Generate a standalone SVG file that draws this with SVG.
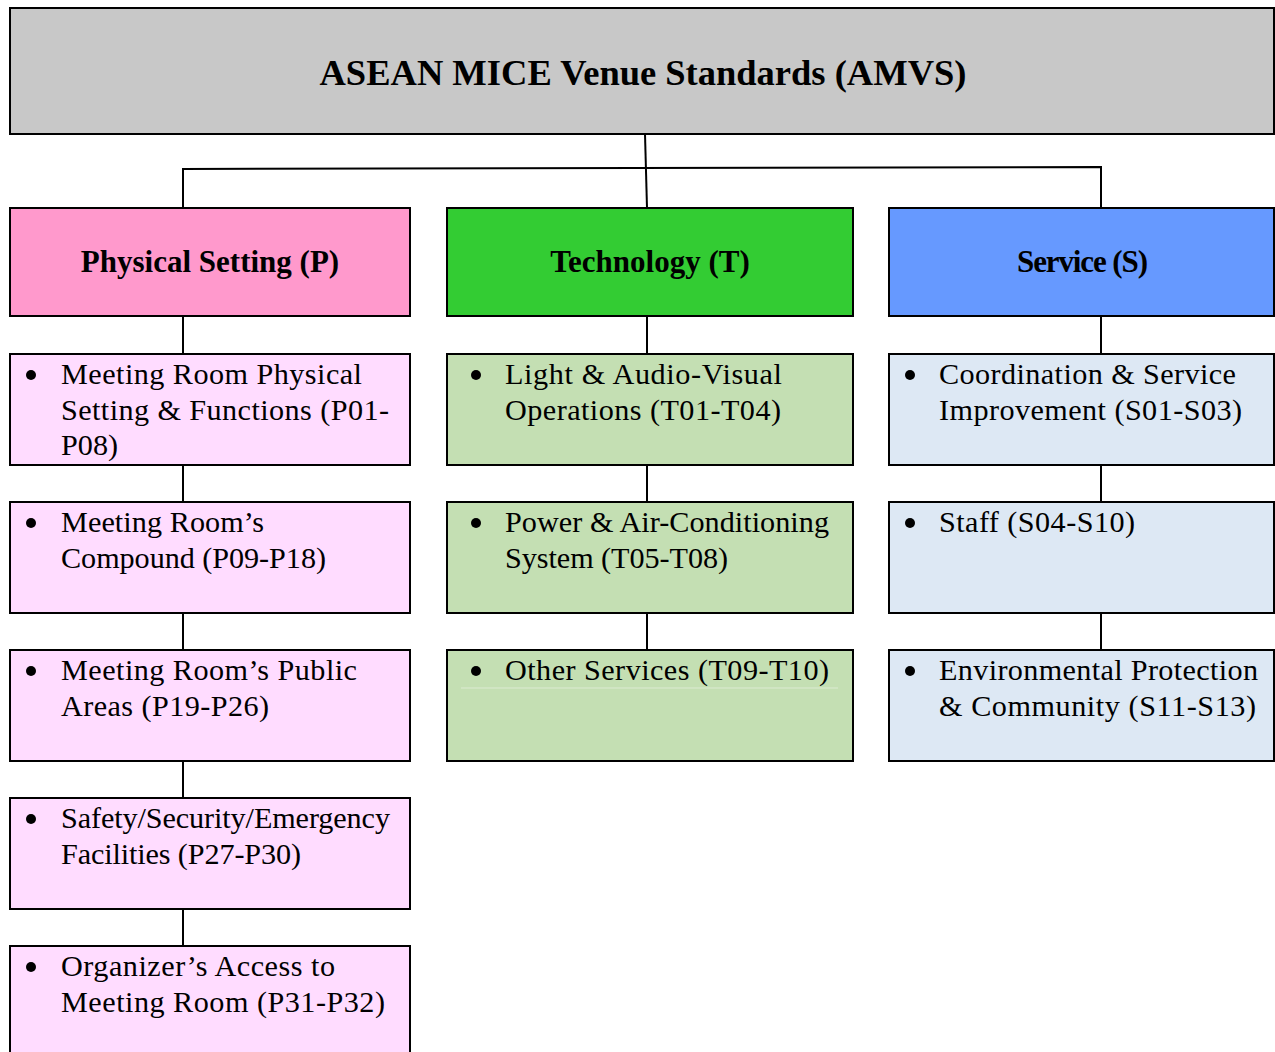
<svg xmlns="http://www.w3.org/2000/svg" width="1275" height="1052" viewBox="0 0 1275 1052">
<style>
.box{stroke:#000;stroke-width:2}
.title{font-family:"Liberation Serif","Times New Roman",serif;font-weight:bold;font-size:36.5px;fill:#000}
.cat{font-family:"Liberation Serif","Times New Roman",serif;font-weight:bold;font-size:31px;fill:#000}
.item{font-family:"Liberation Serif","Times New Roman",serif;font-size:30.2px;fill:#000}
.pc{fill:#ff99cc}.tc{fill:#33cc33}.sc{fill:#6699ff}
.pl{fill:#ffdcff}.tl{fill:#c4dfb3}.sl{fill:#dde8f4}
.conn line,.conn polyline{stroke:#000;stroke-width:2;fill:none}
</style>
<rect width="1275" height="1052" fill="#fff"/>
<g id="connectors" class="conn">
<line x1="645" y1="134" x2="647" y2="208"/>
<polyline points="183,208 183,169 1101,167 1101,208"/>
<line x1="183" y1="316" x2="183" y2="354"/>
<line x1="183" y1="465" x2="183" y2="502"/>
<line x1="183" y1="613" x2="183" y2="650"/>
<line x1="183" y1="761" x2="183" y2="798"/>
<line x1="183" y1="909" x2="183" y2="946"/>
<line x1="647" y1="316" x2="647" y2="354"/>
<line x1="647" y1="465" x2="647" y2="502"/>
<line x1="647" y1="613" x2="647" y2="650"/>
<line x1="1101" y1="316" x2="1101" y2="354"/>
<line x1="1101" y1="465" x2="1101" y2="502"/>
<line x1="1101" y1="613" x2="1101" y2="650"/>
</g>
<g id="root">
<rect class="box" x="10" y="8" width="1264" height="126" fill="#c8c8c8"/>
<text class="title" x="643" y="85" text-anchor="middle">ASEAN MICE Venue Standards (AMVS)</text>
</g>
<g id="cat-p">
<rect class="box pc" x="10" y="208" width="400" height="108"/>
<text class="cat" x="210" y="272" text-anchor="middle">Physical Setting (P)</text>
</g>
<g id="cat-t">
<rect class="box tc" x="447" y="208" width="406" height="108"/>
<text class="cat" x="650" y="272" text-anchor="middle">Technology (T)</text>
</g>
<g id="cat-s">
<rect class="box sc" x="889" y="208" width="385" height="108"/>
<text class="cat" x="1017" y="272" textLength="131">Service (S)</text>
</g>
<g id="p1">
<rect class="box pl" x="10" y="354" width="400" height="111"/>
<circle cx="31" cy="375" r="5"/>
<text class="item" x="61" y="384" textLength="301">Meeting Room Physical</text>
<text class="item" x="61" y="420" textLength="328">Setting &amp; Functions (P01-</text>
<text class="item" x="61" y="455">P08)</text>
</g>
<g id="p2">
<rect class="box pl" x="10" y="502" width="400" height="111"/>
<circle cx="31" cy="523" r="5"/>
<text class="item" x="61" y="532" textLength="203">Meeting Room’s</text>
<text class="item" x="61" y="568" textLength="265">Compound (P09-P18)</text>
</g>
<g id="p3">
<rect class="box pl" x="10" y="650" width="400" height="111"/>
<circle cx="31" cy="671" r="5"/>
<text class="item" x="61" y="680" textLength="296">Meeting Room’s Public</text>
<text class="item" x="61" y="716" textLength="208">Areas (P19-P26)</text>
</g>
<g id="p4">
<rect class="box pl" x="10" y="798" width="400" height="111"/>
<circle cx="31" cy="819" r="5"/>
<text class="item" x="61" y="828" textLength="329">Safety/Security/Emergency</text>
<text class="item" x="61" y="864" textLength="240">Facilities (P27-P30)</text>
</g>
<g id="p5">
<rect class="box pl" x="10" y="946" width="400" height="120"/>
<circle cx="31" cy="967" r="5"/>
<text class="item" x="61" y="976" textLength="274">Organizer’s Access to</text>
<text class="item" x="61" y="1012" textLength="324">Meeting Room (P31-P32)</text>
</g>
<g id="t1">
<rect class="box tl" x="447" y="354" width="406" height="111"/>
<circle cx="476" cy="375" r="5"/>
<text class="item" x="505" y="384" textLength="277">Light &amp; Audio-Visual</text>
<text class="item" x="505" y="420" textLength="276">Operations (T01-T04)</text>
</g>
<g id="t2">
<rect class="box tl" x="447" y="502" width="406" height="111"/>
<circle cx="476" cy="523" r="5"/>
<text class="item" x="505" y="532" textLength="324">Power &amp; Air-Conditioning</text>
<text class="item" x="505" y="568" textLength="223">System (T05-T08)</text>
</g>
<g id="t3">
<rect class="box tl" x="447" y="650" width="406" height="111"/>
<line x1="461" y1="688" x2="838" y2="688" stroke="#dcebd2" stroke-width="1"/>
<circle cx="476" cy="671" r="5"/>
<text class="item" x="505" y="680" textLength="324">Other Services (T09-T10)</text>
</g>
<g id="s1">
<rect class="box sl" x="889" y="354" width="385" height="111"/>
<circle cx="910" cy="375" r="5"/>
<text class="item" x="939" y="384" textLength="297">Coordination &amp; Service</text>
<text class="item" x="939" y="420" textLength="303">Improvement (S01-S03)</text>
</g>
<g id="s2">
<rect class="box sl" x="889" y="502" width="385" height="111"/>
<circle cx="910" cy="523" r="5"/>
<text class="item" x="939" y="532" textLength="196">Staff (S04-S10)</text>
</g>
<g id="s3">
<rect class="box sl" x="889" y="650" width="385" height="111"/>
<circle cx="910" cy="671" r="5"/>
<text class="item" x="939" y="680" textLength="319">Environmental Protection</text>
<text class="item" x="939" y="716" textLength="317">&amp; Community (S11-S13)</text>
</g>
</svg>
